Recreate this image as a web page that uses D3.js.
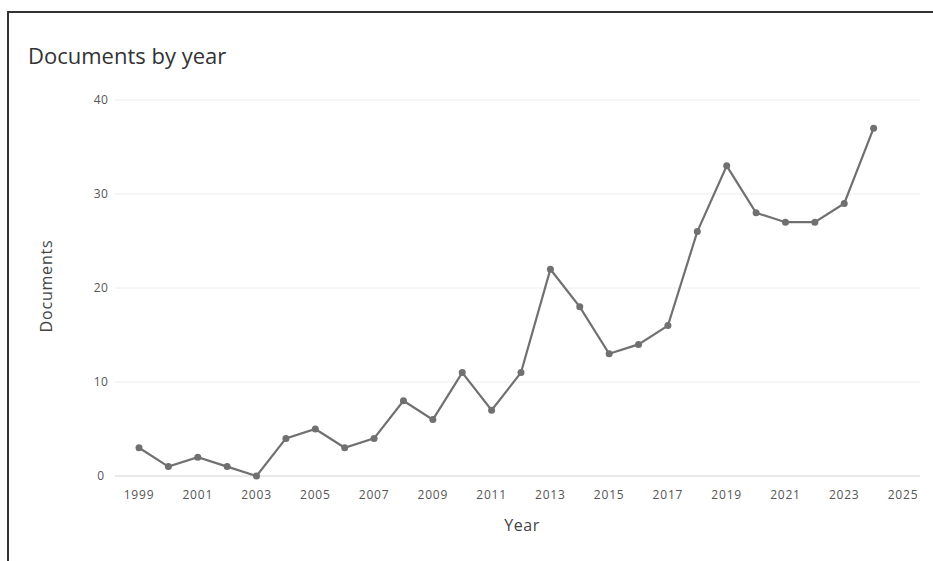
<!DOCTYPE html>
<html>
<head>
<meta charset="utf-8">
<script src="https://cdn.jsdelivr.net/npm/d3@7"></script>
<style>
  body { margin: 0; background: #fff; }
  svg { font-family: "Open Sans", "Noto Sans", sans-serif; }
</style>
</head>
<body>
<div id="chart-area"></div>
<script>

var years = [1999, 2000, 2001, 2002, 2003, 2004, 2005, 2006, 2007, 2008, 2009, 2010, 2011,
             2012, 2013, 2014, 2015, 2016, 2017, 2018, 2019, 2020, 2021, 2022, 2023, 2024];
var documents = [3, 1, 2, 1, 0, 4, 5, 3, 4, 8, 6, 11, 7,
                 11, 22, 18, 13, 14, 16, 26, 33, 28, 27, 27, 29, 37];
var xTicks = [1999, 2001, 2003, 2005, 2007, 2009, 2011, 2013, 2015, 2017, 2019, 2021, 2023, 2025];
var yTicks = [0, 10, 20, 30, 40];

var data = years.map(function(y, i) { return {year: y, value: documents[i]}; });

var svg = d3.select("#chart-area")
    .append("svg")
        .attr("width", 933)
        .attr("height", 561);

// frame (top and left edges visible)
svg.append("path")
    .attr("d", "M8,561 L8,12 L933,12")
    .attr("fill", "none")
    .attr("stroke", "#333")
    .attr("stroke-width", 2);

var x = d3.scaleLinear().domain([1999, 2025]).range([139, 903]);
var y = d3.scaleLinear().domain([0, 40]).range([476, 100]);

// gridlines
svg.selectAll(".grid")
    .data(yTicks)
    .enter()
    .append("line")
        .attr("x1", 115)
        .attr("x2", 920)
        .attr("y1", function(d) { return y(d); })
        .attr("y2", function(d) { return y(d); })
        .attr("stroke", function(d) { return d === 0 ? "#e2e2e2" : "#ececec"; })
        .attr("stroke-width", function(d) { return d === 0 ? 1.5 : 1; });

// y tick labels
svg.selectAll(".ylab")
    .data(yTicks)
    .enter()
    .append("text")
        .attr("x", 101)
        .attr("y", function(d) { return y(d); })
        .attr("dy", "0.35em")
        .attr("text-anchor", "middle")
        .attr("font-size", 12)
        .attr("letter-spacing", 0.5)
        .attr("fill", "#555")
        .text(function(d) { return d; });

// x tick labels
svg.selectAll(".xlab")
    .data(xTicks)
    .enter()
    .append("text")
        .attr("x", function(d) { return x(d); })
        .attr("y", 499)
        .attr("text-anchor", "middle")
        .attr("font-size", 12)
        .attr("letter-spacing", 0.8)
        .attr("fill", "#555")
        .text(function(d) { return d; });

// line
var line = d3.line()
    .x(function(d) { return x(d.year); })
    .y(function(d) { return y(d.value); });

svg.append("path")
    .datum(data)
    .attr("d", line)
    .attr("fill", "none")
    .attr("stroke", "#707070")
    .attr("stroke-width", 2.2);

svg.selectAll("circle")
    .data(data)
    .enter()
    .append("circle")
        .attr("cx", function(d) { return x(d.year); })
        .attr("cy", function(d) { return y(d.value); })
        .attr("r", 3.5)
        .attr("fill", "#707070");

// titles
svg.append("text")
    .attr("x", 28)
    .attr("y", 64)
    .attr("font-size", 22)
    .attr("fill", "#333")
    .text("Documents by year");

svg.append("text")
    .attr("x", 522)
    .attr("y", 531)
    .attr("text-anchor", "middle")
    .attr("font-size", 16)
    .attr("letter-spacing", 0.5)
    .attr("fill", "#444")
    .text("Year");

svg.append("text")
    .attr("transform", "translate(52,286) rotate(-90)")
    .attr("text-anchor", "middle")
    .attr("font-size", 16)
    .attr("letter-spacing", 0.8)
    .attr("fill", "#444")
    .text("Documents");

</script>
</body>
</html>
